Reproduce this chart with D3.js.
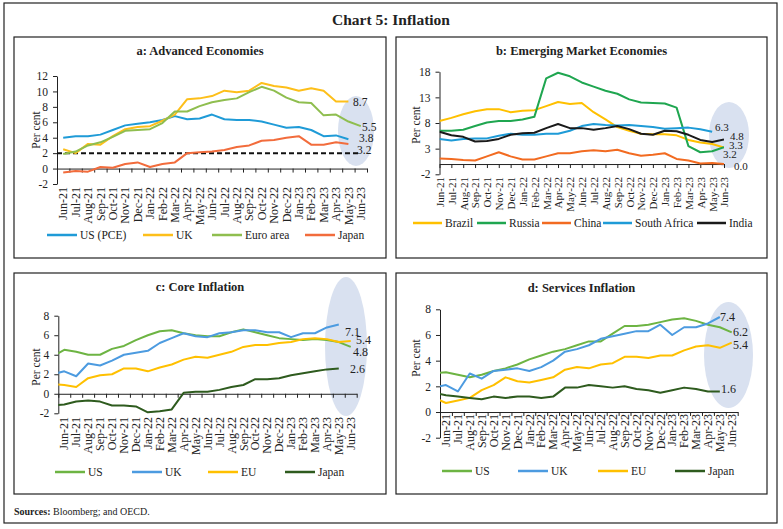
<!DOCTYPE html>
<html><head><meta charset="utf-8">
<script src="https://cdn.jsdelivr.net/npm/d3@7"></script>
<style>
body{margin:0;background:#fff}
svg{display:block}
text{font-family:"Liberation Serif","Times New Roman",serif;fill:#222}
</style>
</head><body>
<svg id="chart" width="783" height="529"></svg>
<script>
// ---------- DATA ----------
const months = ["Jun-21","Jul-21","Aug-21","Sep-21","Oct-21","Nov-21","Dec-21","Jan-22","Feb-22","Mar-22","Apr-22","May-22","Jun-22","Jul-22","Aug-22","Sep-22","Oct-22","Nov-22","Dec-22","Jan-23","Feb-23","Mar-23","Apr-23","May-23","Jun-23"];
const monthsPre = ["May-21"].concat(months);

// a: Advanced Economies (Jun-21 .. Jun-23)
const aUS = [4.0,4.2,4.2,4.4,5.0,5.6,5.8,6.0,6.3,6.8,6.4,6.5,7.0,6.4,6.3,6.3,6.1,5.7,5.3,5.4,5.0,4.2,4.3,3.8,null];
const aUK = [2.5,2.0,3.2,3.1,4.2,5.1,5.4,5.5,6.2,7.0,9.0,9.1,9.4,10.1,9.9,10.1,11.1,10.7,10.5,10.1,10.4,10.1,8.7,8.7,null];
const aEA = [1.9,2.2,3.0,3.4,4.1,4.9,5.0,5.1,5.9,7.4,7.4,8.1,8.6,8.9,9.1,9.9,10.6,10.1,9.2,8.6,8.5,6.9,7.0,6.1,5.5];
const aJP = [-0.5,-0.3,-0.4,0.2,0.1,0.6,0.8,0.2,0.6,0.8,2.0,2.1,2.2,2.4,2.8,3.0,3.6,3.7,4.0,4.2,3.1,3.1,3.4,3.2,null];
const aTarget = 2;
const aTicks = [-2,0,2,4,6,8,10,12];
const aLabels = ["8.7","5.5","3.8","3.2"];

// b: Emerging Market Economies (Jun-21 .. Jun-23)
const bBrazil = [8.4,9.0,9.7,10.3,10.7,10.7,10.1,10.4,10.5,11.3,12.1,11.7,11.9,10.1,8.7,7.2,6.5,5.9,5.8,5.8,5.6,4.7,4.2,3.9,3.2];
const bRussia = [6.5,6.5,6.7,7.4,8.1,8.4,8.4,8.7,9.2,16.7,17.8,17.1,15.9,15.1,14.3,13.7,12.6,12.0,11.9,11.8,11.0,3.5,2.3,2.5,3.3];
const bChina = [1.1,1.0,0.8,0.7,1.5,2.3,1.5,0.9,0.9,1.5,2.1,2.1,2.5,2.7,2.5,2.8,2.1,1.6,1.8,2.1,1.0,0.7,0.1,0.2,0.0];
const bSA = [4.9,4.6,4.9,5.0,5.0,5.5,5.9,5.7,5.7,5.9,5.9,6.5,7.4,7.8,7.6,7.5,7.6,7.4,7.2,6.9,7.0,7.1,6.8,6.3,null];
const bIndia = [6.3,5.6,5.3,4.4,4.5,4.9,5.7,6.0,6.1,7.0,7.8,7.0,7.0,6.7,7.0,7.4,6.8,5.9,5.7,6.5,6.4,5.7,4.7,4.3,4.8];
const bTicks = [-2,3,8,13,18];
const bLabels = ["6.3","4.8","3.3","3.2","0.0"];

// c: Core Inflation (May-21 .. Jun-23)
const cUS = [3.8,4.5,4.3,4.0,4.0,4.6,4.9,5.5,6.0,6.4,6.5,6.2,6.0,5.9,5.9,6.3,6.6,6.3,6.0,5.7,5.6,5.5,5.6,5.5,5.3,4.8];
const cUK = [2.0,2.3,1.8,3.1,2.9,3.4,4.0,4.2,4.4,5.2,5.7,6.2,5.9,5.8,6.2,6.3,6.5,6.5,6.3,6.3,5.8,6.2,6.2,6.8,7.1,null];
const cEU = [1.0,0.9,0.7,1.6,1.9,2.0,2.6,2.6,2.3,2.7,3.0,3.5,3.8,3.7,4.0,4.3,4.8,5.0,5.0,5.2,5.3,5.6,5.7,5.6,5.3,5.4];
const cJP = [-1.2,-1.1,-0.8,-0.7,-0.8,-1.2,-1.2,-1.3,-1.9,-1.8,-1.6,0.1,0.2,0.2,0.4,0.7,0.9,1.5,1.5,1.6,1.9,2.1,2.3,2.5,2.6,null];
const cTicks = [-2,0,2,4,6,8];
const cLabels = ["7.1","5.4","4.8","2.6"];

// d: Services Inflation (May-21 .. Jun-23)
const dUS = [3.0,3.1,2.9,2.7,2.9,3.2,3.4,3.7,4.1,4.4,4.7,4.9,5.2,5.5,5.5,6.1,6.7,6.7,6.8,7.0,7.2,7.3,7.1,6.8,6.6,6.2];
const dUK = [1.9,2.1,1.6,3.0,2.6,3.2,3.3,3.4,3.2,3.5,4.0,4.7,4.9,5.2,5.7,5.9,6.1,6.3,6.3,6.8,6.0,6.6,6.6,6.9,7.4,null];
const dEU = [1.1,0.7,0.9,1.1,1.7,2.1,2.7,2.4,2.3,2.5,2.7,3.3,3.5,3.4,3.7,3.8,4.3,4.3,4.2,4.4,4.4,4.8,5.1,5.2,5.0,5.4];
const dJP = [1.5,1.3,1.2,1.1,1.0,1.2,1.1,1.2,1.2,1.1,1.2,1.9,1.9,2.1,2.0,1.9,2.0,1.8,1.7,1.5,1.7,1.9,1.8,1.6,1.6,null];
const dTicks = [-2,0,2,4,6,8];
const dLabels = ["7.4","6.2","5.4","1.6"];

// ---------- LAYOUT ----------
const svg = d3.select("#chart");
const INK = "#222";
const ELL = "#d9e1f0";

svg.append("rect").attr("x",4).attr("y",3).attr("width",773).attr("height",520)
  .attr("fill","none").attr("stroke",INK).attr("stroke-width",1.2);
svg.append("text").attr("x",391).attr("y",25).attr("text-anchor","middle")
  .attr("font-size",15.5).attr("font-weight","bold").text("Chart 5: Inflation");
const src = svg.append("text").attr("x",14).attr("y",515).attr("font-size",10);
src.append("tspan").attr("font-weight","bold").text("Sources: ");
src.append("tspan").text("Bloomberg; and OECD.");

const panels = [
  {id:"a", box:[14,37,372,221], title:"a: Advanced Economies", titleY:55,
   x0:57, x1:367, mode:"band", cats:months,
   yDomain:[-2,12], yRange:[184,76], ticks:aTicks, labelTop:187, labelSize:12, perCent:[36,130],
   series:[{name:"US (PCE)",v:aUS,c:"#1f9bd7"},{name:"UK",v:aUK,c:"#fdbf1a"},{name:"Euro area",v:aEA,c:"#8fbe4f"},{name:"Japan",v:aJP,c:"#f26c3c"}],
   legendY:235, legendX:[47,143,212,305], legendLen:30,
   ellipse:[356,131,18,35], target:aTarget, endSize:11.5,
   labels:aLabels, labelPos:[[353,102],[362,127],[359,138],[357,149.5]]},
  {id:"b", box:[396,37,371,221], title:"b: Emerging Market Economies", titleY:55,
   x0:439.5, x1:724, mode:"point", cats:months,
   yDomain:[-2,18], yRange:[174.3,71.7], ticks:bTicks, labelTop:177, labelSize:11, perCent:[416,125],
   series:[{name:"Brazil",v:bBrazil,c:"#ffc000"},{name:"Russia",v:bRussia,c:"#1fa650"},{name:"China",v:bChina,c:"#f26b21"},{name:"South Africa",v:bSA,c:"#1e9bd7"},{name:"India",v:bIndia,c:"#1a1a1a"}],
   legendY:223, legendX:[413,477,542,603,697], legendLen:29,
   ellipse:[729,135,20,33], endSize:11,
   labels:bLabels, labelPos:[[715,127.5],[730,136],[729,145.5],[723,154],[734,166]]},
  {id:"c", box:[14,273,372,221], title:"c: Core Inflation", titleY:291,
   x0:58.3, x1:356.7, mode:"bandPre", cats:months,
   yDomain:[-2,8], yRange:[413.3,315.7], ticks:cTicks, labelTop:417, labelSize:12, perCent:[36,367],
   series:[{name:"US",v:cUS,c:"#6db443"},{name:"UK",v:cUK,c:"#4c9be0"},{name:"EU",v:cEU,c:"#ffc000"},{name:"Japan",v:cJP,c:"#2e5b1e"}],
   legendY:472, legendX:[55,132,208,285], legendLen:30,
   ellipse:[346,346.5,21,69.5], endSize:12,
   labels:cLabels, labelPos:[[345,331.5],[356,339.5],[353,351.5],[350,369]]},
  {id:"d", box:[396,273,371,221], title:"d: Services Inflation", titleY:292,
   x0:440, x1:737.7, mode:"bandPre", cats:months,
   yDomain:[-2,8], yRange:[437.7,309.3], ticks:dTicks, labelTop:414, labelSize:12, perCent:[416,358],
   series:[{name:"US",v:dUS,c:"#6db443"},{name:"UK",v:dUK,c:"#4c9be0"},{name:"EU",v:dEU,c:"#ffc000"},{name:"Japan",v:dJP,c:"#2e5b1e"}],
   legendY:471, legendX:[442,518,598,675], legendLen:30,
   ellipse:[728.5,355,24.5,53], endSize:12,
   labels:dLabels, labelPos:[[720,317],[733,332],[733,345],[721,389]]}
];

panels.forEach(p => {
  const g = svg.append("g");
  const [bx,by,bw,bh] = p.box;
  g.append("rect").attr("x",bx).attr("y",by).attr("width",bw).attr("height",bh)
    .attr("fill","none").attr("stroke",INK).attr("stroke-width",1.2);
  g.append("text").attr("x",bx+bw/2).attr("y",p.titleY).attr("text-anchor","middle")
    .attr("font-size",12.5).attr("font-weight","bold").text(p.title);

  // highlight ellipse
  g.append("ellipse").attr("cx",p.ellipse[0]).attr("cy",p.ellipse[1])
    .attr("rx",p.ellipse[2]).attr("ry",p.ellipse[3]).attr("fill",ELL);

  const y = d3.scaleLinear().domain(p.yDomain).range(p.yRange);
  const n = p.cats.length;

  // x scales
  let xLab, xLine, off, tickScale, tickVals;
  if (p.mode === "point") {
    xLab = d3.scalePoint().domain(p.cats).range([p.x0,p.x1]);
    xLine = xLab; off = 0;
    tickScale = xLab; tickVals = p.cats;
  } else {
    xLab = d3.scaleBand().domain(p.cats).range([p.x0,p.x1]);
    const step = (p.x1-p.x0)/n;
    xLine = p.mode === "bandPre"
      ? d3.scaleBand().domain(monthsPre).range([p.x0-step,p.x1])
      : xLab;
    off = xLab.bandwidth()/2;
    tickScale = d3.scaleLinear().domain([0,n]).range([p.x0,p.x1]);
    tickVals = d3.range(n+1);
  }
  const lineCats = p.mode === "bandPre" ? monthsPre : p.cats;

  // y axis
  const ya = g.append("g").attr("transform",`translate(${p.x0},0)`)
    .call(d3.axisLeft(y).tickValues(p.ticks).tickSize(4).tickSizeOuter(0).tickPadding(5).tickFormat(d=>String(d)));
  ya.selectAll("text").attr("font-size",11.5).style("font-family","'Liberation Serif',serif").attr("fill",INK);
  ya.selectAll("line,path").attr("stroke",INK);

  // x axis line at zero with tick marks
  const xa = g.append("g").attr("transform",`translate(0,${y(0)})`)
    .call(d3.axisBottom(tickScale).tickValues(tickVals).tickSize(4).tickSizeOuter(0).tickFormat(""));
  xa.selectAll("line,path").attr("stroke",INK);

  // x labels
  const xl = g.append("g").attr("transform",`translate(0,${p.labelTop})`)
    .call(d3.axisBottom(xLab).tickSize(0).tickPadding(0));
  xl.select(".domain").remove();
  xl.selectAll("text").attr("transform","rotate(-90)").attr("text-anchor","end")
    .attr("x",0).attr("y",0).attr("dy","0.35em")
    .attr("font-size",p.labelSize).style("font-family","'Liberation Serif',serif").attr("fill",INK);

  // y label
  g.append("text").attr("transform",`translate(${p.perCent[0]},${p.perCent[1]}) rotate(-90)`)
    .attr("text-anchor","middle").attr("dy","0.35em").attr("font-size",11.5).text("Per cent");

  // clip
  const clipId = "clip-"+p.id;
  g.append("clipPath").attr("id",clipId).append("rect")
    .attr("x",p.x0).attr("y",p.yRange[1]-20).attr("width",p.x1-p.x0).attr("height",p.yRange[0]-p.yRange[1]+40);

  // target line
  if (p.target !== undefined) {
    g.append("line").attr("x1",p.x0).attr("x2",xLab(months[n-1])+off)
      .attr("y1",y(p.target)).attr("y2",y(p.target))
      .attr("stroke","#111").attr("stroke-width",2).attr("stroke-dasharray","5,3");
  }

  // lines
  const line = d3.line().defined(d=>d.v!==null).x(d=>xLine(d.m)+off).y(d=>y(d.v));
  const lg = g.append("g").attr("clip-path",`url(#${clipId})`);
  p.series.forEach(s => {
    const pts = s.v.map((v,i)=>({m:lineCats[i],v:v}));
    lg.append("path").attr("d",line(pts)).attr("fill","none").attr("stroke",s.c)
      .attr("stroke-width",2).attr("stroke-linejoin","round");
  });

  // end labels
  p.labels.forEach((t,i) => {
    g.append("text").attr("x",p.labelPos[i][0]).attr("y",p.labelPos[i][1]).attr("dy","0.35em")
      .attr("font-size",p.endSize).attr("fill","#333").text(t);
  });

  // legend
  p.series.forEach((s,i) => {
    const lx = p.legendX[i];
    g.append("line").attr("x1",lx).attr("x2",lx+p.legendLen).attr("y1",p.legendY).attr("y2",p.legendY)
      .attr("stroke",s.c).attr("stroke-width",2.5);
    g.append("text").attr("x",lx+p.legendLen+3).attr("y",p.legendY).attr("dy","0.35em")
      .attr("font-size",11.5).text(s.name);
  });
});
</script>
</body></html>
